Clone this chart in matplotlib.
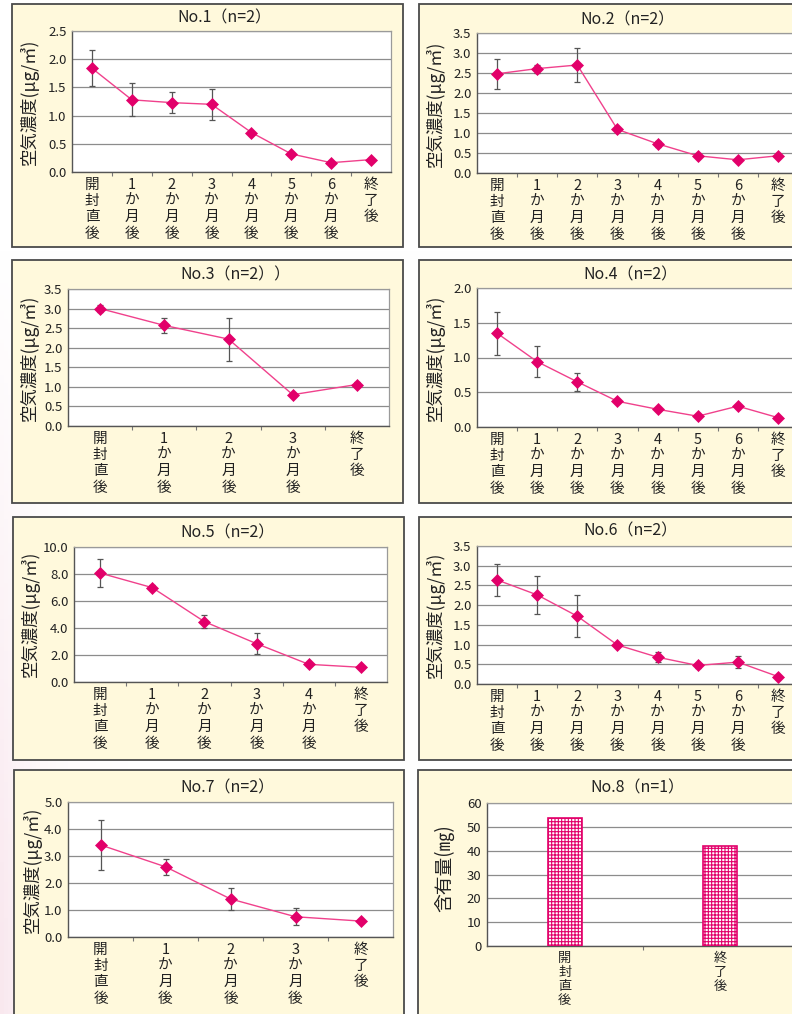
import numpy as np
import matplotlib
matplotlib.use("Agg")
import matplotlib.pyplot as plt
from matplotlib.patches import Rectangle
from matplotlib.ticker import FormatStrFormatter

plt.rcParams["font.family"] = ["Noto Sans CJK JP", "DejaVu Sans"]
plt.rcParams["hatch.linewidth"] = 0.8

# ---------------------------------------------------------------- data
labels_full = ["開\n封\n直\n後", "1\nか\n月\n後", "2\nか\n月\n後", "3\nか\n月\n後",
               "4\nか\n月\n後", "5\nか\n月\n後", "6\nか\n月\n後", "終\n了\n後"]
labels_3m = ["開\n封\n直\n後", "1\nか\n月\n後", "2\nか\n月\n後", "3\nか\n月\n後", "終\n了\n後"]
labels_4m = ["開\n封\n直\n後", "1\nか\n月\n後", "2\nか\n月\n後", "3\nか\n月\n後",
             "4\nか\n月\n後", "終\n了\n後"]
labels_8 = ["開\n封\n直\n後", "終\n了\n後"]

no1_mean = [1.84, 1.28, 1.23, 1.20, 0.70, 0.32, 0.165, 0.22]
no1_err = [0.32, 0.29, 0.18, 0.27, 0.0, 0.0, 0.0, 0.0]

no2_mean = [2.48, 2.61, 2.70, 1.09, 0.73, 0.43, 0.33, 0.43]
no2_err = [0.37, 0.10, 0.42, 0.05, 0.07, 0.04, 0.03, 0.03]

no3_mean = [3.00, 2.57, 2.22, 0.80, 1.06]
no3_err = [0.09, 0.20, 0.55, 0.04, 0.06]

no4_mean = [1.35, 0.94, 0.65, 0.37, 0.255, 0.155, 0.30, 0.135]
no4_err = [0.31, 0.22, 0.13, 0.02, 0.02, 0.01, 0.02, 0.01]

no5_mean = [8.07, 6.99, 4.47, 2.84, 1.31, 1.09]
no5_err = [1.04, 0.20, 0.50, 0.80, 0.05, 0.05]

no6_mean = [2.64, 2.26, 1.72, 0.99, 0.68, 0.47, 0.555, 0.19]
no6_err = [0.40, 0.48, 0.54, 0.06, 0.12, 0.06, 0.16, 0.02]

no7_mean = [3.41, 2.60, 1.41, 0.75, 0.59]
no7_err = [0.94, 0.30, 0.41, 0.31, 0.03]

no8_values = [53.6, 41.9]

titles = ["No.1（n=2）", "No.2（n=2）", "No.3（n=2））", "No.4（n=2）",
          "No.5（n=2）", "No.6（n=2）", "No.7（n=2）", "No.8（n=1）"]
ylabel_air = "空気濃度(μg/㎥)"
ylabel_content = "含有量(㎎)"

# ---------------------------------------------------------------- style
CREAM = "#fff9dc"
BORDER = "#4a4a4a"
LINE = "#f0418c"
MARK = "#e2006a"
GRID = "#8c8c8c"
TXT = "#222222"

W, H = 792, 1014
fig = plt.figure(figsize=(W / 100, H / 100), dpi=100)
fig.patch.set_facecolor("white")


def fx(x):
    return x / W


def fy(y):
    return 1 - y / H


# soft pink wash at the left edge of the page
bg = fig.add_axes([0, 0, 1, 1], zorder=-10)
bg.axis("off")
yy, xx = np.mgrid[0:H:4, 0:W:4]
wt = np.exp(-xx / 45.0) * np.clip((yy - 250) / 700.0, 0, 1) * 0.9
pink = np.array([0.975, 0.90, 0.93])
img = (1 - wt[..., None]) * np.ones(3) + wt[..., None] * pink
bg.imshow(img, extent=[0, 1, 0, 1], aspect="auto", origin="upper")


def panel_box(x0, y0, x1, y1):
    fig.patches.append(Rectangle((fx(x0), fy(y1)), fx(x1) - fx(x0), fy(y0) - fy(y1),
                                 transform=fig.transFigure, facecolor=CREAM,
                                 edgecolor=BORDER, lw=1.3, zorder=-5))


def axes_px(x0, y0, x1, y1):
    ax = fig.add_axes([fx(x0), fy(y1), fx(x1) - fx(x0), fy(y0) - fy(y1)])
    ax.set_facecolor("white")
    for s in ("left", "bottom"):
        ax.spines[s].set_color("#555555")
        ax.spines[s].set_linewidth(1.0)
    for s in ("top", "right"):
        ax.spines[s].set_color("#9a9a9a")
        ax.spines[s].set_linewidth(0.9)
    return ax


def style_axes(ax, labels, ymax, ystep, fmt, xsize=10.5, xspacing=1.22):
    n = len(labels)
    ax.set_xlim(-0.5, n - 0.5)
    ax.set_ylim(0, ymax)
    ax.set_yticks(np.arange(0, ymax + ystep / 2, ystep))
    ax.yaxis.set_major_formatter(FormatStrFormatter(fmt))
    ax.grid(axis="y", color=GRID, lw=0.9)
    ax.set_axisbelow(True)
    ax.set_xticks(np.arange(n - 1) + 0.5)
    ax.set_xticklabels([])
    ax.tick_params(axis="x", which="major", direction="out", length=3,
                   color="#777777", width=0.8)
    ax.set_xticks(np.arange(n), minor=True)
    ax.set_xticklabels(labels, minor=True, fontsize=xsize, linespacing=xspacing,
                       color=TXT, va="top")
    ax.tick_params(axis="x", which="minor", length=0, pad=4)
    ax.tick_params(axis="y", length=0, pad=4, labelsize=9.5, labelcolor=TXT)


def line_panel(box, ax_box, labels, mean, err, ymax, ystep, fmt, title, title_xy, ylab_xy):
    panel_box(*box)
    ax = axes_px(*ax_box)
    style_axes(ax, labels, ymax, ystep, fmt)
    x = np.arange(len(mean))
    ax.errorbar(x, mean, yerr=err, fmt="none", ecolor="#555555", elinewidth=0.9,
                capsize=2.5, capthick=0.9, zorder=3)
    ax.plot(x, mean, color=LINE, lw=1.0, marker="D", ms=6.2, mfc=MARK, mec=MARK,
            mew=0.5, zorder=4)
    fig.text(fx(title_xy[0]), fy(title_xy[1]), title, ha="left", va="center",
             fontsize=11.5, color=TXT)
    fig.text(fx(ylab_xy[0]), fy(ylab_xy[1]), ylabel_air, rotation=90, ha="center",
             va="center", fontsize=12.5, color=TXT)
    return ax


line_panel((12, 4, 403, 247), (72, 31, 391, 172), labels_full, no1_mean, no1_err,
           2.5, 0.5, "%.1f", titles[0], (177, 18), (29, 102))
line_panel((419, 4, 805, 247), (477, 33, 798, 173), labels_full, no2_mean, no2_err,
           3.5, 0.5, "%.1f", titles[1], (580, 20), (435, 104))
line_panel((12, 260, 403, 503), (68, 289, 389, 426), labels_3m, no3_mean, no3_err,
           3.5, 0.5, "%.1f", titles[2], (180, 275), (29, 358))
line_panel((419, 260, 805, 503), (477, 288, 798, 427), labels_full, no4_mean, no4_err,
           2.0, 0.5, "%.1f", titles[3], (583, 275), (435, 358))
line_panel((13, 517, 404, 760), (74, 547, 387, 682), labels_4m, no5_mean, no5_err,
           10.0, 2.0, "%.1f", titles[4], (180, 533), (30, 614))
line_panel((419, 517, 805, 760), (477, 546, 798, 684), labels_full, no6_mean, no6_err,
           3.5, 0.5, "%.1f", titles[5], (583, 531), (435, 615))
line_panel((14, 770, 404, 1025), (68, 802, 393, 937), labels_3m, no7_mean, no7_err,
           5.0, 1.0, "%.1f", titles[6], (180, 788), (32, 870))

# No.8: content bar chart
panel_box(418, 770, 805, 1025)
ax8 = axes_px(487, 803, 798, 946)
style_axes(ax8, labels_8, 60, 10, "%d", xsize=9.5, xspacing=1.1)
ax8.bar(np.arange(len(no8_values)), no8_values, width=0.22, facecolor="white",
        edgecolor=MARK, hatch="+++++", lw=1.2, zorder=3)
fig.text(fx(590), fy(788), titles[7], ha="left", va="center", fontsize=11.5, color=TXT)
fig.text(fx(445), fy(868), ylabel_content, rotation=90, ha="center", va="center",
         fontsize=13.5, color=TXT)

fig.savefig("out.png", dpi=100)
